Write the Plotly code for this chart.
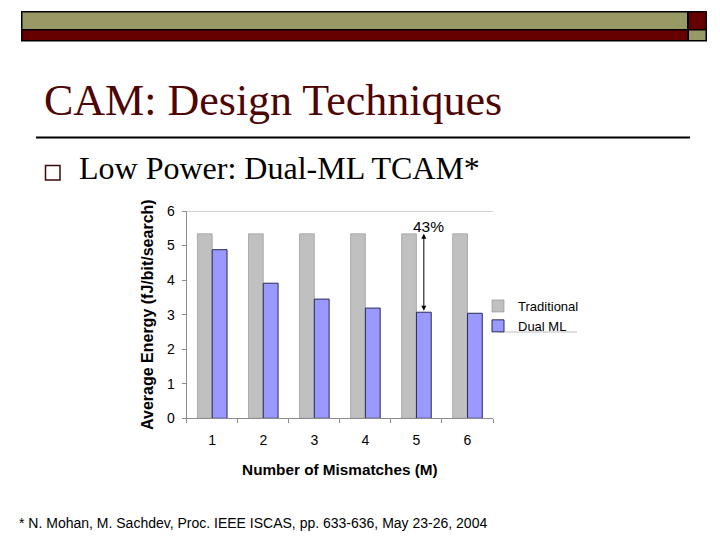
import plotly.graph_objects as go

# ---------------- data ----------------
mismatches = ["1", "2", "3", "4", "5", "6"]
traditional = [5.34, 5.34, 5.34, 5.34, 5.34, 5.34]
dual_ml = [4.88, 3.91, 3.45, 3.19, 3.07, 3.04]
y_ticks = [0, 1, 2, 3, 4, 5, 6]
saving_label = "43%"
saving_index = 4  # category "5"

slide_title = "CAM: Design Techniques"
bullet_text = "Low Power: Dual-ML TCAM*"
footnote = "* N. Mohan, M. Sachdev, Proc. IEEE ISCAS, pp. 633-636, May 23-26, 2004"

W, H = 720, 540
PAGE_OFFSET = 8  # default body margin of the html page
OLIVE = "#999966"
MAROON = "#660000"


def px(x):
    return (x - PAGE_OFFSET) / W


def py(y):
    return 1 - (y - PAGE_OFFSET) / H


BARGAP = 0.42

fig = go.Figure()
fig.add_trace(go.Bar(
    x=mismatches, y=traditional, name="Traditional",
    marker=dict(color="#C0C0C0", line=dict(color="#8c8c8c", width=0.6)),
))
fig.add_trace(go.Bar(
    x=mismatches, y=dual_ml, name="Dual ML",
    marker=dict(color="#9999FF", line=dict(color="#2a2a55", width=1)),
))

shapes = []
# slide header bands
shapes.append(dict(type="rect", xref="paper", yref="paper", x0=px(21), x1=px(707), y0=py(41.5), y1=py(11),
                   fillcolor="black", line=dict(width=0), layer="below"))
shapes.append(dict(type="rect", xref="paper", yref="paper", x0=px(22.5), x1=px(687), y0=py(29), y1=py(12.5),
                   fillcolor=OLIVE, line=dict(width=0), layer="below"))
shapes.append(dict(type="rect", xref="paper", yref="paper", x0=px(22.5), x1=px(687), y0=py(40), y1=py(30.5),
                   fillcolor=MAROON, line=dict(width=0), layer="below"))
shapes.append(dict(type="rect", xref="paper", yref="paper", x0=px(689), x1=px(705.5), y0=py(29), y1=py(12.5),
                   fillcolor=MAROON, line=dict(width=0), layer="below"))
shapes.append(dict(type="rect", xref="paper", yref="paper", x0=px(689), x1=px(705.5), y0=py(40), y1=py(30.5),
                   fillcolor=OLIVE, line=dict(width=0), layer="below"))
# rule under title
shapes.append(dict(type="line", xref="paper", yref="paper", x0=px(36), x1=px(690), y0=py(137.5), y1=py(137.5),
                   line=dict(color="black", width=2)))
# bullet square
shapes.append(dict(type="rect", xref="paper", yref="paper", x0=px(45.5), x1=px(60), y0=py(180), y1=py(165.5),
                   fillcolor="white", line=dict(color="#3a0a0a", width=1.5)))
# top plot border line at y max
shapes.append(dict(type="line", xref="x domain", yref="y", x0=0, x1=1, y0=y_ticks[-1], y1=y_ticks[-1],
                   line=dict(color="#a6a6a6", width=1)))
# legend bottom rule
shapes.append(dict(type="line", xref="paper", yref="paper", x0=px(499), x1=px(577), y0=py(332), y1=py(332),
                   line=dict(color="#bdbdbd", width=1)))

arrow_x = saving_index + (1 - BARGAP) / 4
annotations = [
    dict(xref="paper", yref="paper", x=px(42), y=py(100), xanchor="left", yanchor="middle",
         text=slide_title, showarrow=False,
         font=dict(family="Liberation Serif", size=44, color="#4d0505")),
    dict(xref="paper", yref="paper", x=px(77), y=py(167.5), xanchor="left", yanchor="middle",
         text=bullet_text, showarrow=False,
         font=dict(family="Liberation Serif", size=32, color="black")),
    dict(xref="paper", yref="paper", x=px(17), y=py(523), xanchor="left", yanchor="middle",
         text=footnote, showarrow=False,
         font=dict(family="Liberation Sans", size=14, color="black")),
    dict(xref="x", yref="y", axref="x", ayref="y",
         x=arrow_x, y=traditional[saving_index], ax=arrow_x, ay=dual_ml[saving_index],
         text="", showarrow=True, arrowside="end+start", arrowhead=2, arrowsize=1,
         arrowwidth=1, arrowcolor="black", standoff=0, startstandoff=0),
    dict(xref="x", yref="y", x=arrow_x, y=traditional[saving_index], xanchor="center", yanchor="bottom",
         xshift=5, yshift=-3, text=saving_label, showarrow=False,
         font=dict(family="Liberation Sans", size=15.5, color="black")),
]

fig.update_layout(
    template="none",
    width=W, height=H,
    margin=dict(l=0, r=0, t=0, b=0, pad=0, autoexpand=False),
    paper_bgcolor="white", plot_bgcolor="white",
    barmode="group", bargap=BARGAP, bargroupgap=0,
    font=dict(family="Liberation Sans", color="black"),
    shapes=shapes, annotations=annotations,
    showlegend=True,
    legend=dict(x=px(478), y=py(291), xanchor="left", yanchor="top",
                font=dict(family="Liberation Sans", size=13, color="black"),
                bgcolor="rgba(0,0,0,0)", borderwidth=0, tracegroupgap=0, itemwidth=30),
    xaxis=dict(domain=[px(186.7), px(493)], type="category", automargin=False,
               showline=True, linecolor="#8c8c8c", linewidth=1,
               ticks="outside", tickson="boundaries", ticklen=4, tickcolor="#8c8c8c",
               ticklabelstandoff=9,
               tickfont=dict(family="Liberation Sans", size=14, color="black"),
               showgrid=False, zeroline=False,
               title=dict(text="<b>Number of Mismatches (M)</b>", standoff=17,
                          font=dict(family="Liberation Sans", size=15.3, color="black"))),
    yaxis=dict(domain=[py(418.3), py(211)], range=[y_ticks[0], y_ticks[-1]], automargin=False,
               tickvals=y_ticks, showline=True, linecolor="#8c8c8c", linewidth=1,
               ticks="outside", ticklen=4, tickcolor="#8c8c8c",
               ticklabelstandoff=4,
               tickfont=dict(family="Liberation Sans", size=14, color="black"),
               showgrid=False, zeroline=False,
               title=dict(text="<b>Average Energy (fJ/bit/search)</b>", standoff=9,
                          font=dict(family="Liberation Sans", size=16, color="black"))),
)

fig.write_html("out.html")
